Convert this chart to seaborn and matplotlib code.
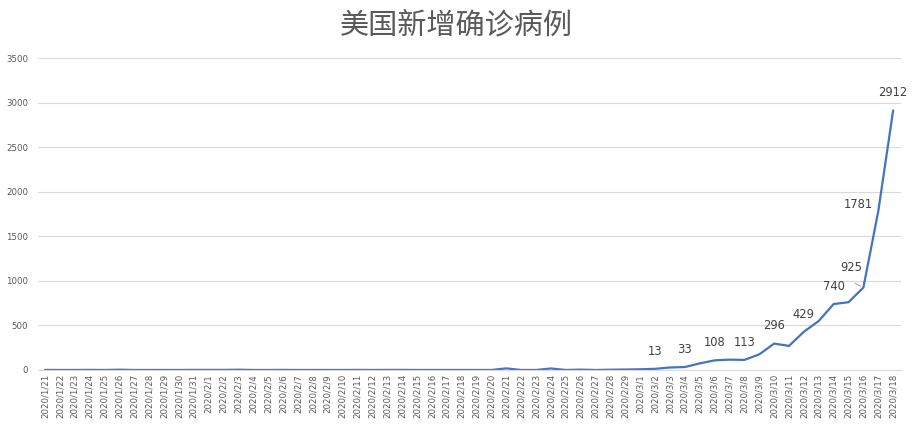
import numpy as np
import pandas as pd
import matplotlib
matplotlib.use("Agg")
import matplotlib.pyplot as plt
import seaborn as sns

# ---------------------------------------------------------------------------
# Data: daily new confirmed cases in the US, 2020/1/21 - 2020/3/18
# ---------------------------------------------------------------------------
dates = ([f"2020/1/{d}" for d in range(21, 32)]
         + [f"2020/2/{d}" for d in range(1, 30)]
         + [f"2020/3/{d}" for d in range(1, 19)])

new_cases = [
    1, 0, 0, 1, 0, 3, 0, 0, 0, 0, 1,                     # Jan 21-31
    1, 1, 3, 0, 0, 1, 0, 0, 0, 0, 1, 0, 1, 1, 0,         # Feb 1-15
    0, 0, 0, 0, 0, 18, 0, 0, 17, 0, 4, 0, 3, 5,          # Feb 16-29
    8, 13, 28, 33, 74, 108, 116, 113, 175, 296,          # Mar 1-10
    270, 429, 550, 740, 760, 925, 1781, 2912,            # Mar 11-18
]

# dates that carry a value label
labelled = ["2020/3/2", "2020/3/4", "2020/3/6", "2020/3/8", "2020/3/10",
            "2020/3/12", "2020/3/14", "2020/3/16", "2020/3/17", "2020/3/18"]

df = pd.DataFrame({"date": dates, "cases": new_cases})
df["pos"] = np.arange(len(df))

# ---------------------------------------------------------------------------
# Plot
# ---------------------------------------------------------------------------
sns.set_style("white")
plt.rcParams["font.family"] = ["Noto Sans CJK SC", "DejaVu Sans"]

fig = plt.figure(figsize=(9.13, 4.24), dpi=100)
ax = fig.add_axes([0.0412, 0.1274, 0.9452, 0.7358])

sns.lineplot(data=df, x="pos", y="cases", ax=ax, color="#4472C4", linewidth=1.6)

ax.set_xlim(-0.5, len(df) - 0.5)
ax.set_ylim(0, 3500)
ax.set_yticks(range(0, 3501, 500))
ax.yaxis.grid(True, color="#D9D9D9", linewidth=0.8)
ax.set_axisbelow(True)
ax.set_xlabel("")
ax.set_ylabel("")

ax.set_xticks(df["pos"])
ax.set_xticklabels(df["date"], rotation=90, fontsize=6.2, color="#595959",
                   family=["DejaVu Sans"])
ax.set_xticks(np.arange(-0.5, len(df), 1), minor=True)
ax.tick_params(axis="x", which="major", length=0, pad=3)
ax.tick_params(axis="x", which="minor", length=4, color="#D9D9D9", width=0.8)
ax.tick_params(axis="y", length=0, labelsize=6.2, labelcolor="#595959", pad=7)
for lab in ax.get_yticklabels():
    lab.set_family(["DejaVu Sans"])

for side in ["top", "right", "left"]:
    ax.spines[side].set_visible(False)
ax.spines["bottom"].set_color("#D9D9D9")
ax.spines["bottom"].set_linewidth(0.8)

# value labels
offsets = {"2020/3/16": (-9, 10), "2020/3/17": (-14, 0)}
for _, row in df[df["date"].isin(labelled)].iterrows():
    dx, dy = offsets.get(row["date"], (0, 8))
    ax.annotate(f"{row['cases']}", (row["pos"], row["cases"]),
                xytext=(dx, dy), textcoords="offset points",
                ha="center", va="bottom", fontsize=8.3, color="#404040",
                family=["DejaVu Sans"])
# leader line for 925
r = df[df["date"] == "2020/3/16"].iloc[0]
ax.annotate("", (r["pos"], r["cases"]), xytext=(-8, 4), textcoords="offset points",
            arrowprops=dict(arrowstyle="-", color="#A6A6A6", lw=0.7))

fig.suptitle("美国新增确诊病例", x=0.5, y=0.975, fontsize=21, color="#595959")

fig.savefig("out.png", dpi=100)
